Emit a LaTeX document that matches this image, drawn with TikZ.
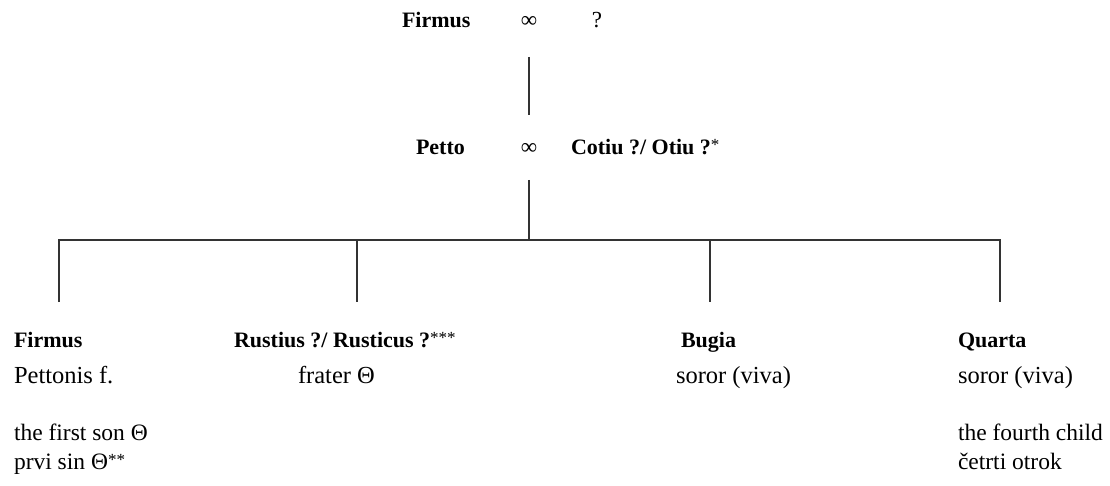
\documentclass[tikz,border=0pt]{standalone}
\usepackage{fontspec}
\setmainfont{Liberation Serif}
\newcommand\supmark[1]{\raisebox{4pt}{\fontsize{17}{17}\selectfont\mdseries #1}}
\begin{document}
\begin{tikzpicture}[x=1pt,y=-1pt,
  txt/.style={anchor=base west,inner sep=0pt,outer sep=0pt},
  pname/.style={txt,font=\fontsize{22}{26}\selectfont\bfseries},
  desc/.style={txt,font=\fontsize{24.5}{29}\selectfont},
  note/.style={txt,font=\fontsize{23.5}{28}\selectfont},
  sym/.style={anchor=base,inner sep=0pt,outer sep=0pt,font=\fontsize{23}{28}\selectfont},
  link/.style={line width=1.2pt,draw=black!80}]
\useasboundingbox (0,0) rectangle (1110,486);
% generation 1
\node[pname] (firmusA) at (402,28) {Firmus};
\node[sym] (marA) at (529,28) {∞};
\node[sym] (unkA) at (597,28) {?};
% generation 2
\node[pname] (petto) at (416,155) {Petto};
\node[sym] (marB) at (529,155) {∞};
\node[pname] (cotiu) at (571,155) {Cotiu ?/ Otiu ?\supmark{*}};
% children
\node[pname] (firmusB) at (14,347) {Firmus};
\node[pname] (rustius) at (234,347) {Rustius ?/ Rusticus ?\supmark{***}};
\node[pname] (bugia) at (681,347) {Bugia};
\node[pname] (quarta) at (958,347) {Quarta};
\node[desc] (pettonis) at (14,383) {Pettonis f.};
\node[desc] (frater) at (298,383) {frater Θ};
\node[desc] (sororB) at (676,383) {soror (viva)};
\node[desc] (sororQ) at (958,383) {soror (viva)};
\node[note] (firstson) at (14,440) {the first son Θ};
\node[note] (prvisin) at (14,469) {prvi sin Θ\supmark{**}};
\node[note] (fourth) at (958,440) {the fourth child};
\node[note] (cetrti) at (958,469) {četrti otrok};
% connector points
\coordinate (gA) at (529,57);
\coordinate (gB) at (529,115);
\coordinate (pA) at (529,180);
\coordinate (bar) at (529,240);
\coordinate (k1) at (59,302);
\coordinate (k2) at (357,302);
\coordinate (k3) at (710,302);
\coordinate (k4) at (1000,302);
\draw[link] (gA) -- (gB);
\draw[link] (pA) -- (bar);
\draw[link] (k1) -- (k1 |- bar) -- (k4 |- bar) -- (k4);
\draw[link] (k2 |- bar) -- (k2);
\draw[link] (k3 |- bar) -- (k3);
\end{tikzpicture}
\end{document}
